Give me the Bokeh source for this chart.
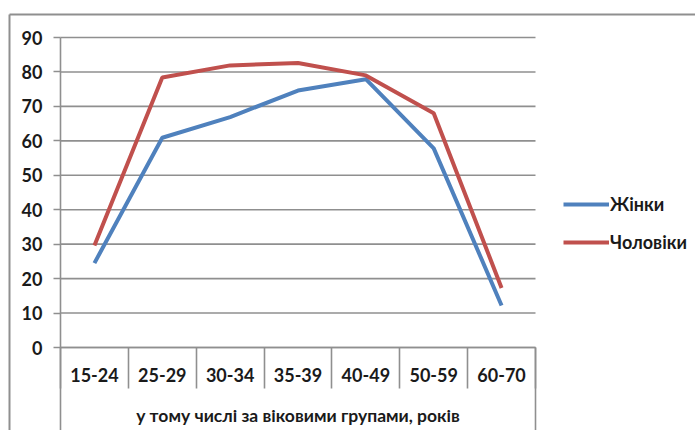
from bokeh.plotting import figure
from bokeh.models import Range1d, FixedTicker, Legend, LegendItem
from bokeh.embed import file_html
from bokeh.resources import INLINE

categories = ["15-24", "25-29", "30-34", "35-39", "40-49", "50-59", "60-70"]
women = [24.5, 60.9, 66.9, 74.6, 77.9, 57.8, 12.2]
men = [29.6, 78.4, 81.9, 82.6, 79.0, 68.0, 17.3]
series_names = ["Жінки", "Чоловіки"]
y_ticks = [0, 10, 20, 30, 40, 50, 60, 70, 80, 90]
x_title = "у тому числі за віковими групами, років"

FONT = "Lato"
TXT = "#1a1a1a"
GRID = "#8f8f8f"
BLUE = "#4F81BD"
RED = "#C0504D"

# layout in canvas pixels
W, H = 695, 430
PL, PT, PW, PH = 60, 37, 475, 310   # plot area left/top/width/height
n = len(categories)
xs = list(range(n))
ymin, ymax = y_ticks[0], y_ticks[-1]
xpu = PW / n                 # px per category
ypu = PH / (ymax - ymin)     # px per y unit
x0 = -0.5 - PL / xpu
x1 = -0.5 + (W - PL) / xpu
y1 = ymax + PT / ypu
y0 = ymin - (H - PT - PH) / ypu

p = figure(width=W, height=H, output_backend="svg", toolbar_location=None,
           x_range=Range1d(x0, x1), y_range=Range1d(y0, y1),
           min_border=0)
p.outline_line_color = None
p.background_fill_color = "white"
p.border_fill_color = "white"
p.xgrid.grid_line_color = None
p.ygrid.grid_line_color = None

# horizontal gridlines across the plot area
p.segment(x0=[-0.5] * len(y_ticks), x1=[n - 0.5] * len(y_ticks), y0=y_ticks, y1=y_ticks,
          line_color=GRID, line_width=1.6)

# y axis
ya = p.yaxis[0]
ya.fixed_location = -0.5
ya.bounds = (y0, ymax)
ya.ticker = FixedTicker(ticks=y_ticks)
ya.axis_line_color = GRID
ya.axis_line_width = 1.6
ya.major_tick_line_color = GRID
ya.major_tick_line_width = 1.6
ya.major_tick_out = 7
ya.major_tick_in = 0
ya.minor_tick_line_color = None
ya.major_label_standoff = 11
ya.major_label_text_font = FONT
ya.major_label_text_font_style = "bold"
ya.major_label_text_font_size = "18px"
ya.major_label_text_color = TXT

# x axis (category labels at centers, dividers as minor ticks)
xa = p.xaxis[0]
xa.fixed_location = 0
xa.bounds = (-0.5, n - 0.5)
xa.ticker = FixedTicker(ticks=xs, minor_ticks=[i - 0.5 for i in range(n + 1)])
xa.major_label_overrides = {i: c for i, c in enumerate(categories)}
xa.axis_line_color = GRID
xa.axis_line_width = 1.6
xa.major_tick_line_color = None
xa.minor_tick_line_color = GRID
xa.minor_tick_line_width = 1.6
xa.minor_tick_out = 41
xa.minor_tick_in = 0
xa.major_label_standoff = -21
xa.major_label_text_font = FONT
xa.major_label_text_font_style = "bold"
xa.major_label_text_font_size = "18px"
xa.major_label_text_color = TXT
xa.axis_label = x_title
xa.axis_label_standoff = 20
xa.axis_label_text_font = FONT
xa.axis_label_text_font_style = "bold"
xa.axis_label_text_font_size = "17.5px"
xa.axis_label_text_color = TXT

# right edge of the category-axis box
p.segment(x0=[n - 0.5], x1=[n - 0.5], y0=[ymin], y1=[y0], line_color=GRID, line_width=1.6)

r1 = p.line(xs, women, line_color=BLUE, line_width=4)
r2 = p.line(xs, men, line_color=RED, line_width=4)

# chart area border (top and left)
bt = y1 - 14 / ypu
bl = x0 + 9 / xpu
p.segment(x0=[bl, bl], x1=[x1, bl], y0=[bt, bt], y1=[bt, y0], line_color=GRID, line_width=2)

legend = Legend(items=[LegendItem(label=series_names[0], renderers=[r1]),
                       LegendItem(label=series_names[1], renderers=[r2])],
                location=(563, 177), glyph_width=46, glyph_height=20, label_standoff=1,
                spacing=16, padding=0, margin=0, border_line_color=None,
                background_fill_alpha=0, label_text_font=FONT,
                label_text_font_style="bold", label_text_font_size="18px",
                label_text_color=TXT, label_height=20)
p.add_layout(legend)

open("out.html", "w").write(file_html(p, INLINE))
